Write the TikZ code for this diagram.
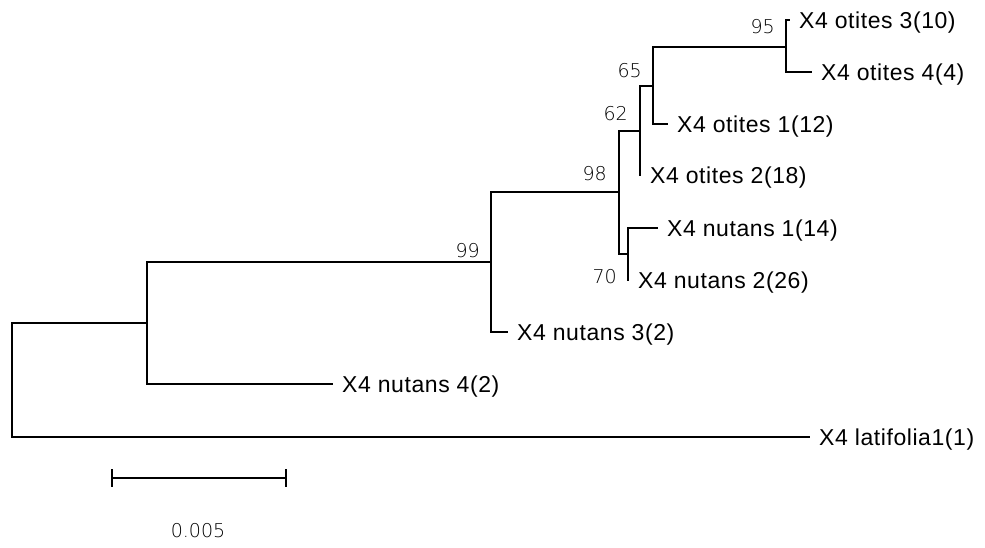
\documentclass[tikz,border=0pt]{standalone}
\usepackage{fontspec}
\setmainfont{Liberation Sans}[LetterSpace=2.5]
\newfontfamily\bsfont{DejaVu Sans ExtraLight}
\begin{document}
\begin{tikzpicture}[x=1pt,y=-1pt,
  edge/.style={draw, line width=1.7pt, line join=miter},
  leaf/.style={anchor=base west, inner sep=0pt, xshift=9pt, yshift=-8.2pt,
    font=\fontsize{23}{27}\selectfont},
  boot/.style={inner sep=0pt, font=\bsfont\fontsize{19}{22}\selectfont}]
\useasboundingbox (0,0) rectangle (985,547);
% internal nodes
\coordinate (R) at (12,380);
\coordinate (A) at (147,323);
\coordinate (B) at (491,262);
\coordinate (C) at (619,192);
\coordinate (D) at (640,131);
\coordinate (F) at (653,86);
\coordinate (G) at (786,47);
\coordinate (E) at (628,254);
% tips
\coordinate (t-ot3) at (790,20);
\coordinate (t-ot4) at (812,72);
\coordinate (t-ot1) at (668,124);
\coordinate (t-ot2) at (641,175);
\coordinate (t-nu1) at (658,228);
\coordinate (t-nu2) at (629,280);
\coordinate (t-nu3) at (508,332);
\coordinate (t-nu4) at (333,384);
\coordinate (t-lat) at (810,437);
% branches
\path[edge] (R) |- (A);
\path[edge] (R) |- (t-lat);
\path[edge] (A) |- (B);
\path[edge] (A) |- (t-nu4);
\path[edge] (B) |- (C);
\path[edge] (B) |- (t-nu3);
\path[edge] (C) |- (D);
\path[edge] (C) |- (E);
\path[edge] (D) |- (F);
\path[edge] (D) |- (t-ot2);
\path[edge] (F) |- (G);
\path[edge] (F) |- (t-ot1);
\path[edge] (G) |- (t-ot3);
\path[edge] (G) |- (t-ot4);
\path[edge] (E) |- (t-nu1);
\path[edge] (E) |- (t-nu2);
% leaf labels
\node[leaf] (ot3) at (t-ot3) {X4 otites 3(10)};
\node[leaf] (ot4) at (t-ot4) {X4 otites 4(4)};
\node[leaf] (ot1) at (t-ot1) {X4 otites 1(12)};
\node[leaf] (ot2) at (t-ot2) {X4 otites 2(18)};
\node[leaf] (nu1) at (t-nu1) {X4 nutans 1(14)};
\node[leaf] (nu2) at (t-nu2) {X4 nutans 2(26)};
\node[leaf] (nu3) at (t-nu3) {X4 nutans 3(2)};
\node[leaf] (nu4) at (t-nu4) {X4 nutans 4(2)};
\node[leaf] (lat) at (t-lat) {X4 latifolia1(1)};
% bootstrap values
\node[boot, anchor=east] (b95) at (775,27) {95};
\node[boot, anchor=east] (b65) at (642,71) {65};
\node[boot, anchor=east] (b62) at (628,114) {62};
\node[boot, anchor=east] (b98) at (607,174) {98};
\node[boot, anchor=east] (b99) at (480,251) {99};
\node[boot, anchor=east] (b70) at (617,277) {70};
% scale bar
\coordinate (sL) at (112,478);
\coordinate (sR) at (286,478);
\path[edge] (sL) -- (sR);
\path[edge] ([yshift=9pt]sL) -- ([yshift=-9pt]sL);
\path[edge] ([yshift=9pt]sR) -- ([yshift=-9pt]sR);
\node[boot] (scl) at (198,531) {0.005};
\end{tikzpicture}
\end{document}
